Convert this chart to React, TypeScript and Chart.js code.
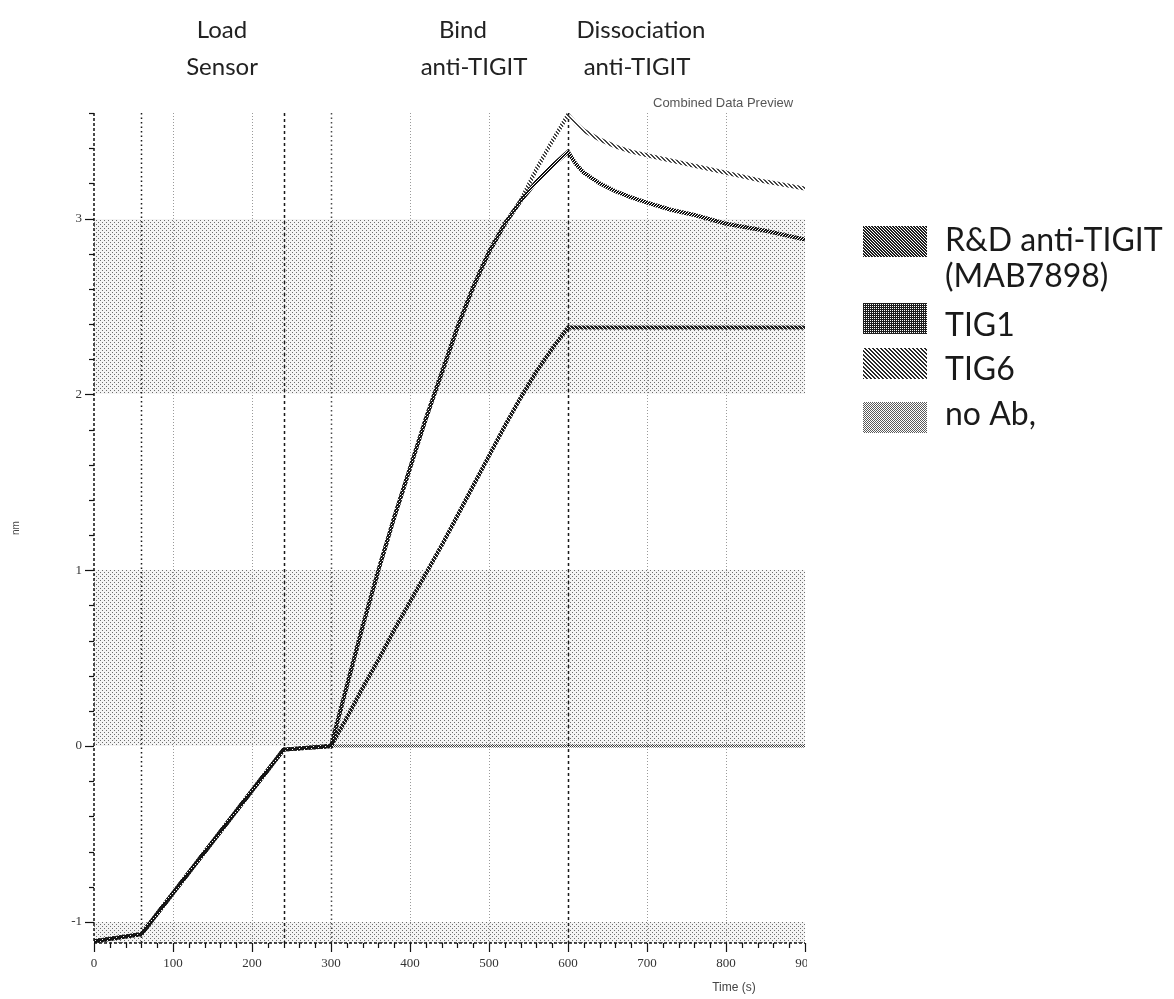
import React, { useEffect, useRef } from "react";
import { Chart, registerables } from "chart.js";

Chart.register(...registerables);

// Sampling times (s) shared by every sensorgram trace
const timeSec = [0, 60, 240, 300, 320, 340, 360, 380, 400, 420, 440, 460, 480, 500, 520, 540, 560, 580, 600, 610, 620, 640, 660, 680, 700, 730, 760, 800, 850, 900];

// Binding response (nm) per trace
const tig1 = [-1.11, -1.07, -0.02, 0.0, 0.34, 0.68, 1.0, 1.3, 1.58, 1.86, 2.12, 2.38, 2.61, 2.81, 2.97, 3.1, 3.21, 3.3, 3.38, 3.31, 3.26, 3.2, 3.155, 3.12, 3.09, 3.05, 3.02, 2.97, 2.93, 2.88];
const rdMab7898 = [-1.11, -1.07, -0.02, 0.0, 0.16, 0.33, 0.49, 0.66, 0.82, 0.98, 1.14, 1.31, 1.48, 1.65, 1.82, 1.98, 2.13, 2.26, 2.38, 2.38, 2.38, 2.38, 2.38, 2.38, 2.38, 2.38, 2.38, 2.38, 2.38, 2.38];
const tig6 = [-1.11, -1.07, -0.02, 0.0, 0.34, 0.68, 1.0, 1.3, 1.58, 1.86, 2.12, 2.38, 2.61, 2.81, 2.97, 3.1, 3.28, 3.44, 3.59, 3.54, 3.5, 3.45, 3.41, 3.38, 3.36, 3.33, 3.3, 3.26, 3.21, 3.17];
const noAb = [-1.11, -1.07, -0.02, 0.0, 0.0, 0.0, 0.0, 0.0, 0.0, 0.0, 0.0, 0.0, 0.0, 0.0, 0.0, 0.0, 0.0, 0.0, 0.0, 0.0, 0.0, 0.0, 0.0, 0.0, 0.0, 0.0, 0.0, 0.0, 0.0, 0.0];

// Axis ticks
const xTickValues = [0, 100, 200, 300, 400, 500, 600, 700, 800, 900];
const yTickValues = [-1, 0, 1, 2, 3];

// Assay step boundaries (s) and step captions
const stepTimes = [60, 240, 300, 600];
const stepCaptions = [
  ["Load", "Sensor"],
  ["Bind", "anti-TIGIT"],
  ["Dissociation", "anti-TIGIT"],
];

// Shaded response bands (nm)
const shadedBands = [
  [-1.12, -1],
  [0, 1],
  [2, 3],
];

const legendLabels = [["R&D anti-TIGIT", "(MAB7898)"], ["TIG1"], ["TIG6"], ["no Ab,"]];

function makePattern(size: number, bg: string | null, fg: string, on: (x: number, y: number) => boolean) {
  const c = document.createElement("canvas");
  c.width = size;
  c.height = size;
  const g = c.getContext("2d")!;
  if (bg) {
    g.fillStyle = bg;
    g.fillRect(0, 0, size, size);
  }
  g.fillStyle = fg;
  for (let y = 0; y < size; y++) {
    for (let x = 0; x < size; x++) {
      if (on(x, y)) g.fillRect(x, y, 1, 1);
    }
  }
  const ctx = document.createElement("canvas").getContext("2d")!;
  return ctx.createPattern(c, "repeat")!;
}

const mod = (a: number, n: number) => ((a % n) + n) % n;

export default function App() {
  const canvasRef = useRef<HTMLCanvasElement>(null);

  useEffect(() => {
    const canvas = canvasRef.current!;

    // diagonal lattice of grey dots for the shaded bands
    const bandFill = makePattern(4, "#f4f4f4", "#6e6e6e", (x, y) => (x === 0 && y === 0) || (x === 2 && y === 2));
    const lineTig1 = makePattern(3, null, "#111111", (x, y) => mod(x + y, 3) !== 0);
    const lineRd = makePattern(4, null, "#1c1c1c", (x, y) => mod(x - y, 4) < 3);
    const lineTig6 = makePattern(4, null, "#444444", (x, y) => mod(x - y, 4) < 2);
    const lineNoAb = makePattern(2, null, "#3a3a3a", (x, y) => (x + y) % 2 === 0);

    const swRd = makePattern(3, "#ffffff", "#1e1e1e", (x, y) => mod(x - y, 3) < 2);
    const swTig1 = makePattern(2, "#ffffff", "#1e1e1e", (x, y) => !(x === 0 && y === 0));
    const swTig6 = makePattern(4, "#ffffff", "#2a2a2a", (x, y) => mod(x - y, 4) < 2);
    const swNoAb = makePattern(2, "#ffffff", "#5a5a5a", (x, y) => (x + y) % 2 === 0);
    const swatches = [swRd, swTig1, swTig6, swNoAb];

    const toPoints = (vals: number[]) => timeSec.map((t, i) => ({ x: t, y: vals[i] }));

    const decor = {
      id: "decor",
      beforeDatasetsDraw(chart: any) {
        const { ctx, chartArea: a, scales } = chart;
        const x = scales.x;
        const y = scales.y;
        ctx.save();
        ctx.fillStyle = bandFill;
        for (const [lo, hi] of shadedBands) {
          const yt = Math.round(y.getPixelForValue(hi));
          const yb = Math.round(y.getPixelForValue(lo));
          ctx.fillRect(a.left, yt, a.right - a.left, yb - yt);
        }
        // light dotted time gridlines
        ctx.strokeStyle = "#9a9a9a";
        ctx.lineWidth = 1;
        ctx.setLineDash([1, 2]);
        for (const t of xTickValues) {
          if (t === 0 || t === 900 || stepTimes.includes(t)) continue;
          const px = Math.round(x.getPixelForValue(t)) + 0.5;
          ctx.beginPath();
          ctx.moveTo(px, a.top);
          ctx.lineTo(px, a.bottom);
          ctx.stroke();
        }
        // step boundaries
        const stepStyles: Record<number, [string, number[]]> = {
          60: ["#1a1a1a", [1.5, 3]],
          240: ["#1a1a1a", [3, 3]],
          300: ["#4a4a4a", [1.5, 3]],
          600: ["#1a1a1a", [3, 3]],
        };
        for (const t of stepTimes) {
          const [col, dash] = stepStyles[t];
          ctx.strokeStyle = col;
          ctx.lineWidth = 1.5;
          ctx.setLineDash(dash);
          const px = Math.round(x.getPixelForValue(t)) + 0.5;
          ctx.beginPath();
          ctx.moveTo(px, a.top);
          ctx.lineTo(px, a.bottom);
          ctx.stroke();
        }
        ctx.restore();
      },
      afterDatasetsDraw(chart: any) {
        const { ctx, chartArea: a, scales } = chart;
        const x = scales.x;
        const y = scales.y;
        ctx.save();
        ctx.strokeStyle = "#111";
        ctx.lineWidth = 1.5;
        ctx.setLineDash([3, 2]);
        ctx.beginPath();
        ctx.moveTo(a.left, a.top);
        ctx.lineTo(a.left, a.bottom);
        ctx.lineTo(a.right, a.bottom);
        ctx.stroke();
        ctx.setLineDash([]);
        ctx.lineWidth = 1.2;
        // x ticks every 20 s, long at every 100 s
        for (let t = 0; t <= 900; t += 20) {
          const px = Math.round(x.getPixelForValue(t)) + 0.5;
          const len = t % 100 === 0 ? 9 : 5;
          ctx.beginPath();
          ctx.moveTo(px, a.bottom);
          ctx.lineTo(px, a.bottom + len);
          ctx.stroke();
        }
        // y ticks every 0.2 nm, long at integers
        for (let k = -5; k <= 18; k++) {
          const v = k / 5;
          const py = Math.round(y.getPixelForValue(v)) + 0.5;
          if (py < a.top - 1 || py > a.bottom + 1) continue;
          const len = k % 5 === 0 ? 9 : 5;
          ctx.beginPath();
          ctx.moveTo(a.left - len, py);
          ctx.lineTo(a.left, py);
          ctx.stroke();
        }
        ctx.restore();
      },
      afterDraw(chart: any) {
        const { ctx, chartArea: a } = chart;
        ctx.save();
        ctx.fillStyle = "#555";
        ctx.font = "13px 'Liberation Sans', sans-serif";
        ctx.textBaseline = "middle";
        ctx.textAlign = "left";
        ctx.fillText("Combined Data Preview", 653, 103);

        // crop everything past the plot's right edge
        ctx.fillStyle = "#ffffff";
        ctx.fillRect(a.right + 2, 88, 1174 - a.right, 999 - 88);

        // step captions
        ctx.fillStyle = "#222";
        ctx.font = "24px Lato, 'Open Sans', sans-serif";
        ctx.textAlign = "center";
        ctx.textBaseline = "middle";
        const capCenters = [
          [222, 222],
          [463, 474],
          [641, 637],
        ];
        stepCaptions.forEach((lines, i) => {
          ctx.fillText(lines[0], capCenters[i][0], 30);
          ctx.fillText(lines[1], capCenters[i][1], 67);
        });

        // axis titles
        ctx.fillStyle = "#444";
        ctx.font = "12px 'Liberation Sans', sans-serif";
        ctx.textAlign = "center";
        ctx.fillText("Time (s)", 734, 988);
        ctx.save();
        ctx.translate(16, (a.top + a.bottom) / 2);
        ctx.rotate(-Math.PI / 2);
        ctx.font = "10px 'Liberation Sans', sans-serif";
        ctx.fillText("nm", 0, 0);
        ctx.restore();

        // legend
        const swTops = [226, 303, 348, 402];
        const textRows = [[240, 276], [325], [369], [414]];
        ctx.font = "32px Lato, 'Open Sans', sans-serif";
        ctx.textAlign = "left";
        ctx.textBaseline = "alphabetic";
        legendLabels.forEach((lines, i) => {
          ctx.fillStyle = swatches[i];
          ctx.fillRect(863, swTops[i], 64, 31);
          ctx.fillStyle = "#1a1a1a";
          lines.forEach((ln, j) => ctx.fillText(ln, 945, textRows[i][j] + 11));
        });
        ctx.restore();
      },
    };

    const chart = new Chart(canvas, {
      type: "line",
      data: {
        datasets: [
          { label: "TIG1", data: toPoints(tig1), borderColor: lineTig1, borderWidth: 4, pointRadius: 0, tension: 0 },
          { label: "R&D anti-TIGIT (MAB7898)", data: toPoints(rdMab7898), borderColor: lineRd, borderWidth: 4, pointRadius: 0, tension: 0 },
          { label: "TIG6", data: toPoints(tig6), borderColor: lineTig6, borderWidth: 4, pointRadius: 0, tension: 0 },
          { label: "no Ab,", data: toPoints(noAb), borderColor: lineNoAb, borderWidth: 3, pointRadius: 0, tension: 0 },
        ],
      },
      options: {
        responsive: false,
        animation: false,
        devicePixelRatio: 1,
        layout: { padding: { left: 0, top: 113, right: 1174 - 805, bottom: 16 } },
        plugins: { legend: { display: false }, tooltip: { enabled: false } },
        scales: {
          x: {
            type: "linear",
            min: 0,
            max: 900,
            afterBuildTicks: (s: any) => {
              s.ticks = xTickValues.map((v) => ({ value: v }));
            },
            afterFit: (s: any) => {
              s.height = 40;
            },
            grid: { display: false, drawTicks: false },
            border: { display: false },
            ticks: {
              padding: 13,
              maxRotation: 0,
              autoSkip: false,
              color: "#333",
              font: { family: "'Liberation Serif', serif", size: 13 },
            },
          },
          y: {
            type: "linear",
            min: -1.12,
            max: 3.6,
            afterBuildTicks: (s: any) => {
              s.ticks = yTickValues.map((v) => ({ value: v }));
            },
            afterFit: (s: any) => {
              s.width = 94;
            },
            grid: { display: false, drawTicks: false },
            border: { display: false },
            ticks: {
              padding: 12,
              color: "#333",
              font: { family: "'Liberation Serif', serif", size: 13 },
            },
          },
        },
      },
      plugins: [decor],
    } as any);

    return () => chart.destroy();
  }, []);

  return (
    <div style={{ position: "absolute", left: 0, top: 0, width: 1174, height: 999, background: "#fff" }}>
      <canvas ref={canvasRef} width={1174} height={999} style={{ display: "block", width: 1174, height: 999 }} />
    </div>
  );
}
